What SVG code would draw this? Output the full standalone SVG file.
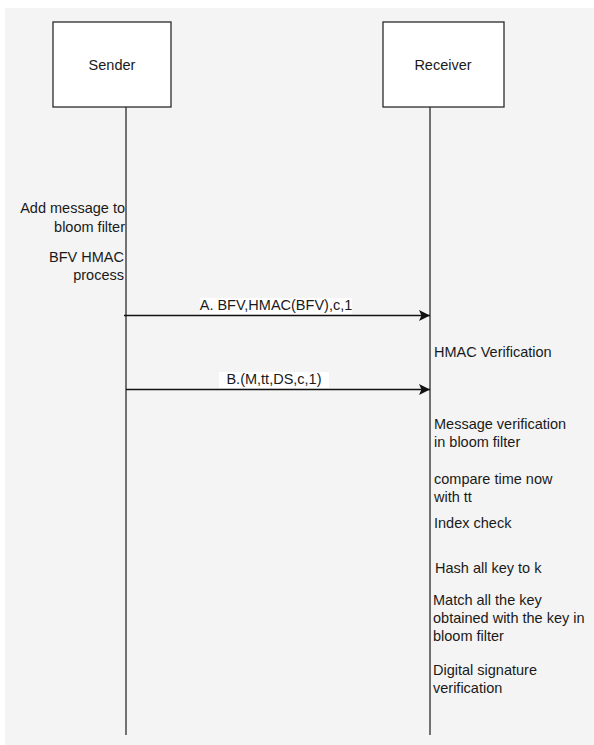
<svg xmlns="http://www.w3.org/2000/svg" width="594" height="745" viewBox="0 0 594 745">
<style>
text{font-family:"Liberation Sans",Arial,sans-serif;font-size:14.5px;fill:#1a1a1a}
.box{fill:#fff;stroke:#2b2b2b;stroke-width:1.3}
.life{stroke:#2b2b2b;stroke-width:1.3;fill:none}
.msg{stroke:#111;stroke-width:1.3;fill:none;marker-end:url(#ah)}
.lbl{text-anchor:middle}
.rt{text-anchor:end}
</style>
<defs>
<marker id="ah" markerWidth="12" markerHeight="12" viewBox="0 0 12 12" refX="11" refY="6" orient="auto" markerUnits="userSpaceOnUse">
<path d="M0,0.5 L11,6 L0,11.5 L2.5,6 Z" fill="#111"/>
</marker>
</defs>
<rect x="0" y="0" width="594" height="745" fill="#fff"/>
<rect x="5" y="8" width="589" height="737" fill="#f4f4f4"/>
<g id="sender">
<rect class="box" x="53" y="22" width="118" height="85"/>
<text class="lbl" x="112" y="70">Sender</text>
<line class="life" x1="126" y1="107" x2="126" y2="735"/>
</g>
<g id="receiver">
<rect class="box" x="383" y="22" width="121" height="85"/>
<text class="lbl" x="443" y="70">Receiver</text>
<line class="life" x1="430" y1="107" x2="430" y2="735"/>
</g>
<g id="sender-notes">
<text class="rt" x="125" y="213">Add message to</text>
<text class="rt" x="125" y="232">bloom filter</text>
<text class="rt" x="124" y="262">BFV HMAC</text>
<text class="rt" x="124" y="280">process</text>
</g>
<g id="receiver-notes">
<text x="434" y="357">HMAC Verification</text>
<text x="434" y="429">Message verification</text>
<text x="434" y="447">in bloom filter</text>
<text x="434" y="484">compare time now</text>
<text x="434" y="502">with tt</text>
<text x="434" y="528">Index check</text>
<text x="435" y="573">Hash all key to k</text>
<text x="433" y="605">Match all the key</text>
<text x="433" y="623">obtained with the key in</text>
<text x="433" y="641">bloom filter</text>
<text x="433" y="675">Digital signature</text>
<text x="433" y="693">verification</text>
</g>
<g id="connectors">
<line class="msg" x1="124" y1="315.5" x2="430" y2="315.5"/>
<line class="msg" x1="126" y1="389.5" x2="430" y2="389.5"/>
</g>
<g id="labels">
<rect x="200" y="298" width="152" height="16" fill="#fff"/>
<text class="lbl" x="276" y="310">A. BFV,HMAC(BFV),c,1</text>
<rect x="219" y="372" width="110" height="16" fill="#fff"/>
<text class="lbl" x="274" y="384">B.(M,tt,DS,c,1)</text>
</g>
</svg>
